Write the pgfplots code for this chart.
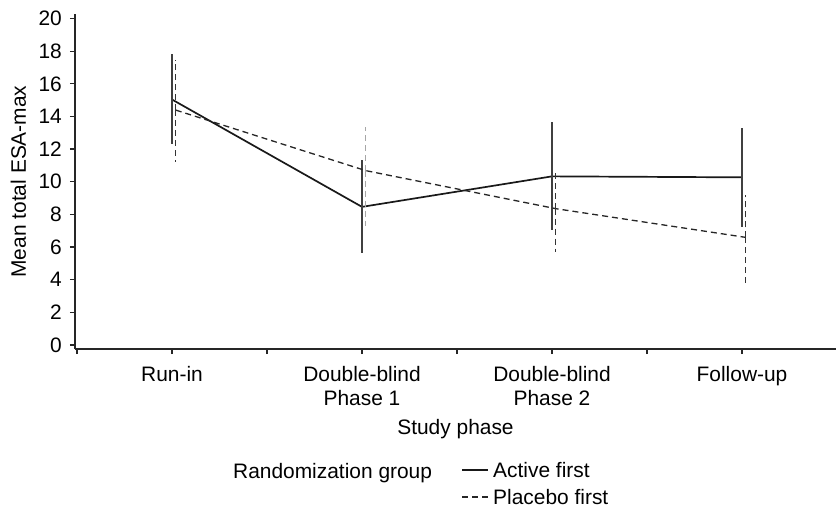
\documentclass[border=0pt]{standalone}
\usepackage{pgfplots}
\pgfplotsset{compat=1.18}
\usepackage{fontspec}
\setmainfont{Liberation Sans}
\begin{document}
\begin{tikzpicture}[font=\fontsize{21}{24}\selectfont]
\useasboundingbox (0,0) rectangle (836bp,508bp);
\begin{axis}[
 at={(75bp,159bp)}, anchor=south west,
 scale only axis, width=761bp, height=335bp,
 xmin=0.4895, xmax=4.4947, ymin=-0.25, ymax=20.28,
 axis x line=bottom, axis y line=left,
 axis line style={-, line width=1.4bp, black!85},
 tick style={line width=1.3bp, black!85},
 tick align=outside,
 major tick length=5bp, minor tick length=5bp,
 xtick={1,2,3,4},
 xticklabels={Run-in,{Double-blind\\Phase 1},{Double-blind\\Phase 2},Follow-up},
 minor xtick={0.5,1.5,2.5,3.5},
 ytick={0,2,...,20},
 /pgf/number format/assume math mode=true,
 xticklabel style={align=center, anchor=north, inner sep=0pt, yshift=-12bp},
 yticklabel style={anchor=east, inner sep=0pt, xshift=-8bp},
 xlabel={Study phase},
 xlabel style={at={(axis description cs:0.5,-0.2567)}, anchor=base, inner sep=0pt},
 ylabel={Mean total ESA-max},
 ylabel style={at={(axis description cs:-0.0745,0.5)}, anchor=center, inner sep=0pt},
 legend style={at={(axis description cs:0.5079,-0.3373)}, anchor=north west, draw=none, fill=none, inner sep=0pt, outer sep=0pt, row sep=11bp, column sep=4bp, nodes={inner sep=0pt, text height=16bp, text depth=0bp}, cells={anchor=west}},
 legend image code/.code={\draw[#1] (0bp,0bp) -- (26bp,0bp);},
 clip=false,
]
\addplot[black!90, line width=1.7bp, error bars/.cd, y dir=both, y explicit, error mark=none, error bar style={solid, line width=1.2bp, draw=black!75}] coordinates {
(1,15.04) += (0,2.77) -= (0,2.70)
(2,8.46) += (0,2.90) -= (0,2.83)
(3,10.33) += (0,3.32) -= (0,3.31)
(4,10.27) += (0,3.04) -= (0,3.04)
};
\addlegendentry{Active first}
\addplot[black!85, line width=1.3bp, dash pattern=on 6bp off 4bp] coordinates {
(1.02,14.39) (2.02,10.68) (3.02,8.35) (4.02,6.59)
};
\addlegendentry{Placebo first}
\addplot[forget plot, draw=none, error bars/.cd, y dir=both, y explicit, error mark=none, error bar style={draw=black!80, line width=1.2bp, dash pattern=on 6bp off 4bp}] coordinates {
(1.02,14.39) += (0,3.09) -= (0,3.15)
(3.02,8.35) += (0,2.29) -= (0,2.68)
(4.02,6.59) += (0,2.62) -= (0,2.80)
};
\addplot[forget plot, draw=none, error bars/.cd, y dir=both, y explicit, error mark=none, error bar style={draw=black!35, line width=1.2bp, dash pattern=on 6bp off 4bp}] coordinates {
(2.02,10.68) += (0,2.69) -= (0,3.42)
};
\node[anchor=base west, inner sep=0pt] at (axis description cs:0.2076,-0.3851) {Randomization group};
\end{axis}
\end{tikzpicture}
\end{document}
